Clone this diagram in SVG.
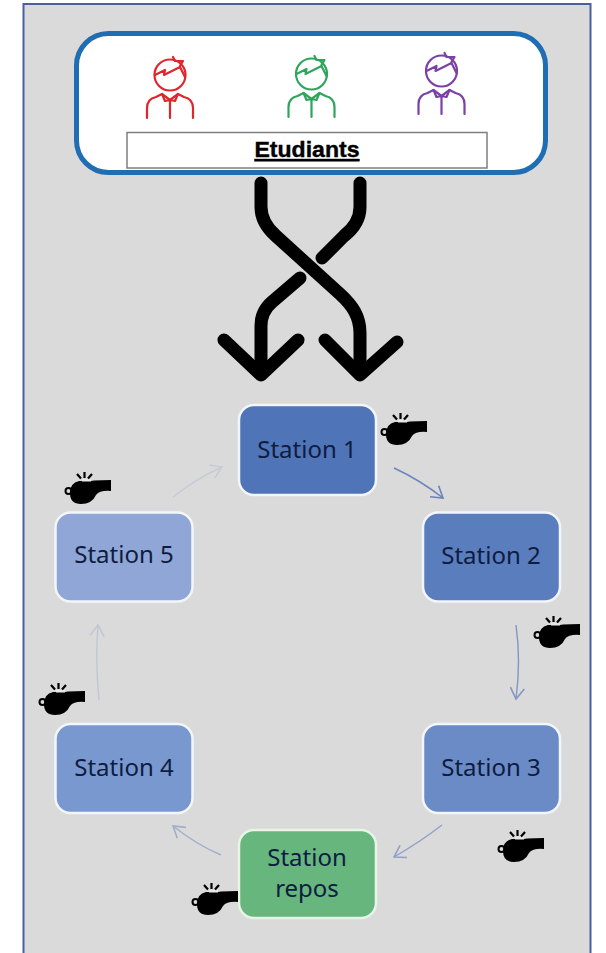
<svg xmlns="http://www.w3.org/2000/svg" xmlns:xlink="http://www.w3.org/1999/xlink" width="606" height="953" viewBox="0 0 606 953">
  <style>
    .st { stroke: #f2f6fb; stroke-width: 2.5; }
    .lb { font-family: "Noto Sans", "Open Sans", sans-serif; font-size: 24px; fill: #0e1c40; text-anchor: middle; }
    .big { fill: none; stroke: #000; stroke-width: 13; stroke-linecap: round; stroke-linejoin: round; }
    .thin { fill: none; stroke: #5f7bb9; stroke-width: 1.4; marker-end: url(#head); }
    .p { fill: none; stroke-width: 2.2; stroke-linecap: round; stroke-linejoin: round; }
  </style>
  <defs>
    <marker id="head" markerUnits="userSpaceOnUse" markerWidth="24" markerHeight="24" refX="13" refY="12" orient="auto">
      <path d="M2 5 L13 12 L2 19" fill="none" stroke="#5f7bb9" stroke-width="1.6"/>
    </marker>
    <g id="whistle">
      <path d="M6 21 Q6 11 15 9 L19 9 H27 L30 8.500 L47 8 V19 Q36 18 32 23 Q28 32 17 32 Q6 32 6 21 Z" fill="#000"/>
      <rect x="18" y="7" width="9" height="2.500" fill="#e8e8e8"/>
      <circle cx="4.500" cy="19" r="3" fill="none" stroke="#000" stroke-width="2"/>
      <path d="M20.500 6 V0 M17 6.500 L13 2 M24 6.500 L28 2" stroke="#000" stroke-width="2.200" fill="none"/>
    </g>
    <g id="person" class="p">
      <circle cx="0" cy="0" r="15.500"/>
      <path d="M-15 0 L-5 -5 L-6 0 L10 -8 L15 2"/>
      <path d="M3 -18 L5 -14 L13 -14 L10 -9"/>
      <path d="M-23 43 V33 Q-23 24 -14 22 L-8 19 L0 25 L8 19 L14 22 Q23 24 23 33 V43"/>
      <path d="M0 25 V43 M-8 19 L-5 26 L0 25 L5 26 L8 19"/>
    </g>
  </defs>

  <rect id="page" x="0" y="0" width="606" height="953" fill="#fff"/>
  <rect id="frame" x="23.500" y="4" width="567" height="960" fill="#dadada" stroke="#4a5f9e" stroke-width="2"/>

  <g id="etudiants">
    <rect x="76.500" y="33.500" width="469" height="139" rx="32" fill="#fff" stroke="#1f6db3" stroke-width="5"/>
    <rect x="127" y="132.500" width="360" height="35.500" fill="#fff" stroke="#7f7f7f" stroke-width="1.500"/>
    <text x="307" y="157" font-family="&quot;Liberation Sans&quot;, Arial, sans-serif" font-size="22" font-weight="bold" text-anchor="middle" text-decoration="underline" textLength="105" lengthAdjust="spacingAndGlyphs" fill="#000" stroke="#000" stroke-width="0.400">Etudiants</text>
    <use xlink:href="#person" href="#person" transform="translate(170,75)" stroke="#e0252c"/>
    <use xlink:href="#person" href="#person" transform="translate(311.500,74)" stroke="#2ea55c"/>
    <use xlink:href="#person" href="#person" transform="translate(441.500,71)" stroke="#7b3fa6"/>
  </g>

  <g id="connectors">
    <path class="big" d="M261 183 V207 C261 220 268 229 276 236 L340 294 C352 305 360 316 360 333 V373"/>
    <path class="big" d="M325 340 L360 375 L397 342"/>
    <path class="big" d="M360 183 V207 C360 220 353 229 344 236 L322 258"/>
    <path class="big" d="M300 278 L272 302 C265 308 261 316 261 326 V373"/>
    <path class="big" d="M224 340 L261 375 L298 340"/>
    <path class="thin" opacity="0.9" d="M394 468 Q420 480 443 498"/>
    <path class="thin" opacity="0.7" d="M516 625 Q521 660 516 699"/>
    <path class="thin" opacity="0.6" d="M442 825 Q420 842 394 857"/>
    <path class="thin" opacity="0.45" d="M221 855 Q197 845 173 826"/>
    <path class="thin" opacity="0.2" d="M99 700 Q95 660 98 625"/>
    <path class="thin" opacity="0.15" d="M173 497 Q197 478 222 467"/>
  </g>

  <g id="station1">
    <rect class="st" x="239" y="405" width="137" height="90" rx="15" fill="#4f74b8"/>
    <text class="lb" x="307" y="458">Station 1</text>
  </g>
  <g id="station2">
    <rect class="st" x="423" y="512.500" width="137" height="89" rx="15" fill="#5a7dbe"/>
    <text class="lb" x="491" y="564">Station 2</text>
  </g>
  <g id="station3">
    <rect class="st" x="423" y="724" width="137" height="89" rx="15" fill="#6a8bc6"/>
    <text class="lb" x="491" y="776">Station 3</text>
  </g>
  <g id="station-repos">
    <rect x="239" y="830" width="137" height="88" rx="15" fill="#66b67e" stroke="#e6f5e6" stroke-width="2.500"/>
    <text class="lb" x="307" y="866">Station</text>
    <text class="lb" x="307" y="897">repos</text>
  </g>
  <g id="station4">
    <rect class="st" x="55.500" y="724" width="137" height="89" rx="15" fill="#7a98d0"/>
    <text class="lb" x="124" y="776">Station 4</text>
  </g>
  <g id="station5">
    <rect class="st" x="55.500" y="512.500" width="137" height="89" rx="15" fill="#8fa6d6"/>
    <text class="lb" x="124" y="563">Station 5</text>
  </g>

  <g id="whistle1"><use xlink:href="#whistle" href="#whistle" x="380" y="413"/></g>
  <g id="whistle2"><use xlink:href="#whistle" href="#whistle" x="533" y="616"/></g>
  <g id="whistle3"><use xlink:href="#whistle" href="#whistle" x="497" y="830"/></g>
  <g id="whistle4"><use xlink:href="#whistle" href="#whistle" x="191" y="883"/></g>
  <g id="whistle5"><use xlink:href="#whistle" href="#whistle" x="38" y="683"/></g>
  <g id="whistle6"><use xlink:href="#whistle" href="#whistle" x="64" y="472"/></g>
</svg>
